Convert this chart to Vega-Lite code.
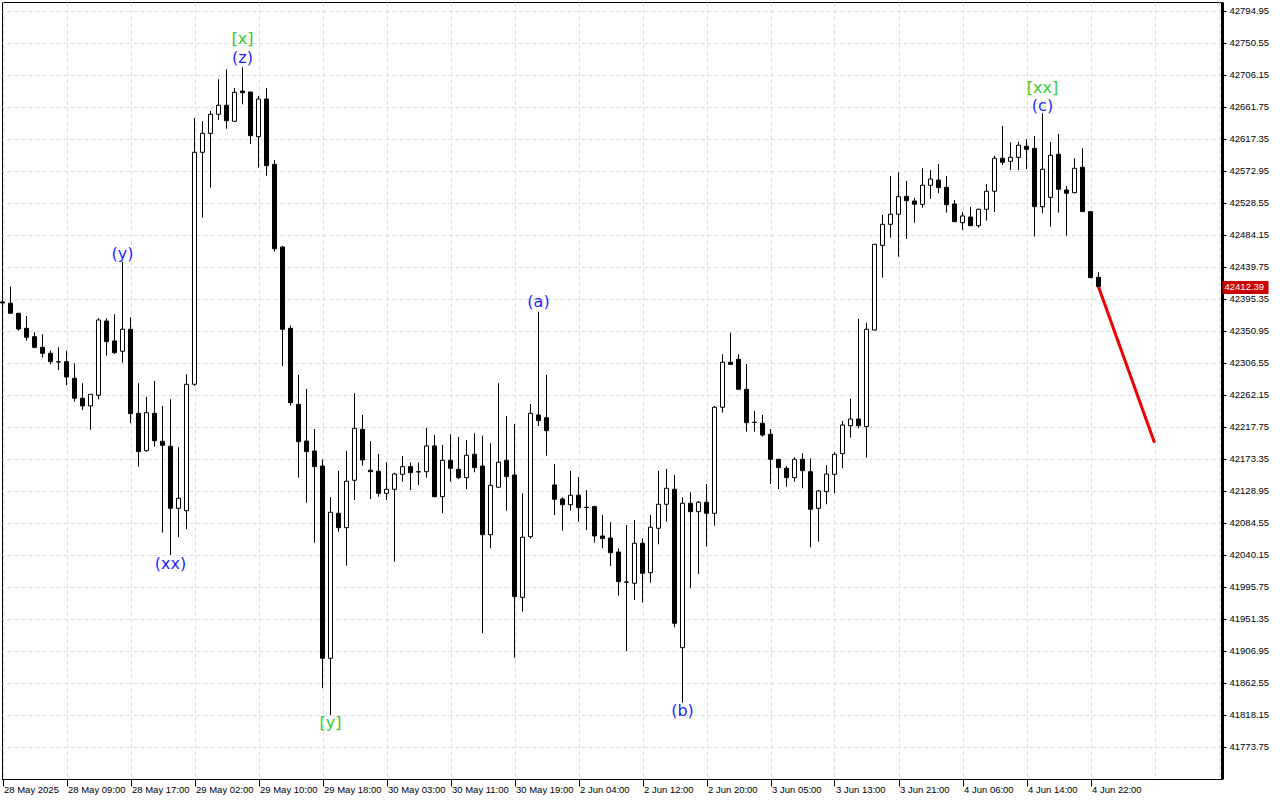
{
  "$schema": "https://vega.github.io/schema/vega-lite/v6.json",
  "width": 1220,
  "height": 777,
  "autosize": {"type": "none"},
  "padding": {"left": 2, "top": 2, "right": 58, "bottom": 21},
  "background": "white",
  "config": {
    "view": {"stroke": "black", "strokeWidth": 1},
    "axis": {"labelFont": "Liberation Sans", "labelFontSize": 9.5, "labelColor": "black", "title": null}
  },
  "resolve": {"axis": {"y": "independent"}},
  "datasets": {
    "candles": [
      {"i":0,"o":42391.2,"h":42395.3,"l":42387.0,"c":42389.8},
      {"i":1,"o":42389.4,"h":42412.4,"l":42375.5,"c":42375.5},
      {"i":2,"o":42375.5,"h":42375.5,"l":42351.4,"c":42353.7},
      {"i":3,"o":42354.7,"h":42371.7,"l":42337.5,"c":42342.2},
      {"i":4,"o":42343.0,"h":42349.1,"l":42326.9,"c":42328.3},
      {"i":5,"o":42328.3,"h":42346.4,"l":42313.9,"c":42320.0},
      {"i":6,"o":42320.0,"h":42323.6,"l":42304.7,"c":42308.3},
      {"i":7,"o":42308.3,"h":42328.3,"l":42296.8,"c":42308.0},
      {"i":8,"o":42308.3,"h":42323.6,"l":42275.6,"c":42287.1},
      {"i":9,"o":42285.3,"h":42306.1,"l":42252.8,"c":42257.6},
      {"i":10,"o":42257.6,"h":42278.4,"l":42241.3,"c":42246.9},
      {"i":11,"o":42246.9,"h":42263.1,"l":42213.6,"c":42263.1},
      {"i":12,"o":42261.7,"h":42368.6,"l":42256.2,"c":42366.2},
      {"i":13,"o":42364.8,"h":42368.6,"l":42316.7,"c":42336.1},
      {"i":14,"o":42337.1,"h":42374.1,"l":42319.0,"c":42320.8},
      {"i":15,"o":42322.8,"h":42447.1,"l":42307.0,"c":42353.3},
      {"i":16,"o":42353.3,"h":42369.9,"l":42222.9,"c":42236.2},
      {"i":17,"o":42236.7,"h":42278.4,"l":42162.7,"c":42183.5},
      {"i":18,"o":42184.8,"h":42259.8,"l":42183.5,"c":42237.6},
      {"i":19,"o":42236.7,"h":42281.6,"l":42190.4,"c":42198.7},
      {"i":20,"o":42197.9,"h":42246.9,"l":42071.1,"c":42192.3},
      {"i":21,"o":42191.0,"h":42256.2,"l":42040.1,"c":42104.9},
      {"i":22,"o":42104.9,"h":42189.6,"l":42064.7,"c":42118.8},
      {"i":23,"o":42101.6,"h":42290.9,"l":42075.8,"c":42277.0},
      {"i":24,"o":42277.0,"h":42646.5,"l":42274.6,"c":42598.9},
      {"i":25,"o":42598.9,"h":42642.3,"l":42508.1,"c":42625.2},
      {"i":26,"o":42625.2,"h":42656.2,"l":42549.8,"c":42651.6},
      {"i":27,"o":42651.6,"h":42700.2,"l":42643.7,"c":42664.1},
      {"i":28,"o":42664.1,"h":42714.0,"l":42631.6,"c":42642.7},
      {"i":29,"o":42641.9,"h":42688.1,"l":42641.9,"c":42682.1},
      {"i":30,"o":42683.9,"h":42716.8,"l":42665.5,"c":42681.6},
      {"i":31,"o":42682.5,"h":42682.5,"l":42610.4,"c":42621.9},
      {"i":32,"o":42620.5,"h":42677.0,"l":42577.5,"c":42672.8},
      {"i":33,"o":42672.8,"h":42688.1,"l":42566.4,"c":42580.3},
      {"i":34,"o":42582.2,"h":42588.2,"l":42461.0,"c":42465.1},
      {"i":35,"o":42467.5,"h":42468.9,"l":42302.4,"c":42353.3},
      {"i":36,"o":42354.7,"h":42358.8,"l":42247.3,"c":42251.5},
      {"i":37,"o":42249.2,"h":42289.9,"l":42147.4,"c":42197.3},
      {"i":38,"o":42198.3,"h":42270.5,"l":42112.7,"c":42183.5},
      {"i":39,"o":42184.4,"h":42215.0,"l":42057.2,"c":42162.7},
      {"i":40,"o":42163.6,"h":42172.9,"l":41855.2,"c":41896.8},
      {"i":41,"o":41896.8,"h":42120.6,"l":41818.1,"c":42099.4},
      {"i":42,"o":42098.0,"h":42156.7,"l":42072.5,"c":42078.0},
      {"i":43,"o":42078.0,"h":42184.4,"l":42025.3,"c":42142.4},
      {"i":44,"o":42143.8,"h":42264.5,"l":42116.4,"c":42215.9},
      {"i":45,"o":42214.5,"h":42234.4,"l":42164.0,"c":42171.9},
      {"i":46,"o":42157.7,"h":42198.3,"l":42117.8,"c":42155.7},
      {"i":47,"o":42156.3,"h":42180.3,"l":42121.0,"c":42125.7},
      {"i":48,"o":42125.7,"h":42168.8,"l":42116.4,"c":42131.3},
      {"i":49,"o":42131.3,"h":42154.3,"l":42030.8,"c":42152.5},
      {"i":50,"o":42152.1,"h":42177.5,"l":42141.8,"c":42162.7},
      {"i":51,"o":42162.7,"h":42168.2,"l":42130.3,"c":42154.3},
      {"i":52,"o":42155.7,"h":42168.2,"l":42137.3,"c":42155.3},
      {"i":53,"o":42155.7,"h":42216.8,"l":42147.4,"c":42191.4},
      {"i":54,"o":42191.4,"h":42206.6,"l":42120.2,"c":42121.0},
      {"i":55,"o":42121.0,"h":42192.8,"l":42098.0,"c":42171.5},
      {"i":56,"o":42171.5,"h":42207.6,"l":42141.8,"c":42160.4},
      {"i":57,"o":42159.0,"h":42203.9,"l":42145.6,"c":42147.4},
      {"i":58,"o":42147.4,"h":42199.7,"l":42131.7,"c":42178.5},
      {"i":59,"o":42179.9,"h":42209.0,"l":42154.9,"c":42161.3},
      {"i":60,"o":42163.6,"h":42205.7,"l":41931.5,"c":42068.3},
      {"i":61,"o":42068.3,"h":42195.1,"l":42049.4,"c":42136.8},
      {"i":62,"o":42134.1,"h":42278.4,"l":42134.1,"c":42168.8},
      {"i":63,"o":42171.5,"h":42233.0,"l":42101.6,"c":42148.8},
      {"i":64,"o":42151.1,"h":42221.9,"l":41897.6,"c":41982.3},
      {"i":65,"o":41981.4,"h":42125.7,"l":41961.5,"c":42064.7},
      {"i":66,"o":42065.5,"h":42249.6,"l":42062.8,"c":42236.7},
      {"i":67,"o":42234.4,"h":42377.7,"l":42219.1,"c":42226.5},
      {"i":68,"o":42230.6,"h":42289.9,"l":42177.9,"c":42212.6},
      {"i":69,"o":42137.3,"h":42166.4,"l":42095.6,"c":42117.4},
      {"i":70,"o":42117.8,"h":42120.2,"l":42073.9,"c":42109.9},
      {"i":71,"o":42109.9,"h":42156.7,"l":42101.6,"c":42123.0},
      {"i":72,"o":42123.0,"h":42148.4,"l":42086.3,"c":42105.8},
      {"i":73,"o":42106.3,"h":42130.3,"l":42074.8,"c":42106.0},
      {"i":74,"o":42107.2,"h":42108.5,"l":42057.2,"c":42066.5},
      {"i":75,"o":42066.5,"h":42095.6,"l":42049.4,"c":42062.8},
      {"i":76,"o":42063.7,"h":42085.5,"l":42024.9,"c":42043.3},
      {"i":77,"o":42044.3,"h":42049.4,"l":41983.7,"c":42003.1},
      {"i":78,"o":42002.7,"h":42081.8,"l":41906.9,"c":42002.3},
      {"i":79,"o":42000.9,"h":42088.7,"l":41977.7,"c":42056.4},
      {"i":80,"o":42056.4,"h":42063.3,"l":41974.0,"c":42014.7},
      {"i":81,"o":42015.6,"h":42095.6,"l":42001.7,"c":42078.6},
      {"i":82,"o":42077.2,"h":42156.7,"l":42055.0,"c":42110.5},
      {"i":83,"o":42110.5,"h":42159.5,"l":42086.3,"c":42132.7},
      {"i":84,"o":42131.3,"h":42151.1,"l":41939.8,"c":41945.4},
      {"i":85,"o":41911.5,"h":42120.2,"l":41835.2,"c":42111.9},
      {"i":86,"o":42111.9,"h":42127.1,"l":41993.9,"c":42100.2},
      {"i":87,"o":42100.2,"h":42115.1,"l":42013.8,"c":42113.3},
      {"i":88,"o":42113.3,"h":42138.6,"l":42051.7,"c":42098.0},
      {"i":89,"o":42098.0,"h":42246.9,"l":42080.8,"c":42245.1},
      {"i":90,"o":42245.1,"h":42318.6,"l":42237.6,"c":42307.5},
      {"i":91,"o":42307.5,"h":42348.6,"l":42304.7,"c":42304.7},
      {"i":92,"o":42311.7,"h":42318.6,"l":42270.0,"c":42270.0},
      {"i":93,"o":42270.0,"h":42305.1,"l":42211.2,"c":42223.7},
      {"i":94,"o":42224.3,"h":42239.9,"l":42211.2,"c":42224.0},
      {"i":95,"o":42222.9,"h":42234.4,"l":42204.3,"c":42206.6},
      {"i":96,"o":42207.6,"h":42215.0,"l":42138.6,"c":42172.9},
      {"i":97,"o":42172.9,"h":42172.9,"l":42131.7,"c":42161.3},
      {"i":98,"o":42160.4,"h":42163.6,"l":42134.9,"c":42147.4},
      {"i":99,"o":42147.4,"h":42175.7,"l":42141.8,"c":42172.9},
      {"i":100,"o":42172.9,"h":42181.3,"l":42132.7,"c":42157.1},
      {"i":101,"o":42155.7,"h":42174.3,"l":42050.8,"c":42103.5},
      {"i":102,"o":42104.9,"h":42130.3,"l":42058.6,"c":42128.9},
      {"i":103,"o":42128.0,"h":42165.0,"l":42110.5,"c":42152.5},
      {"i":104,"o":42152.1,"h":42182.6,"l":42125.7,"c":42179.9},
      {"i":105,"o":42180.7,"h":42226.1,"l":42160.4,"c":42220.5},
      {"i":106,"o":42219.5,"h":42256.6,"l":42202.9,"c":42228.8},
      {"i":107,"o":42228.8,"h":42367.6,"l":42215.9,"c":42219.5},
      {"i":108,"o":42218.2,"h":42362.5,"l":42175.1,"c":42353.3},
      {"i":109,"o":42352.3,"h":42471.2,"l":42351.4,"c":42471.2},
      {"i":110,"o":42469.8,"h":42511.9,"l":42424.9,"c":42499.0},
      {"i":111,"o":42499.0,"h":42566.0,"l":42480.4,"c":42512.9},
      {"i":112,"o":42512.9,"h":42571.1,"l":42454.0,"c":42537.3},
      {"i":113,"o":42537.8,"h":42559.1,"l":42478.6,"c":42531.7},
      {"i":114,"o":42531.3,"h":42535.9,"l":42501.2,"c":42526.7},
      {"i":115,"o":42526.7,"h":42576.7,"l":42522.0,"c":42553.1},
      {"i":116,"o":42553.1,"h":42574.3,"l":42534.1,"c":42561.8},
      {"i":117,"o":42560.4,"h":42582.6,"l":42542.0,"c":42549.8},
      {"i":118,"o":42550.3,"h":42566.0,"l":42515.1,"c":42526.2},
      {"i":119,"o":42527.1,"h":42532.7,"l":42502.6,"c":42502.6},
      {"i":120,"o":42501.2,"h":42516.0,"l":42491.1,"c":42510.5},
      {"i":121,"o":42509.1,"h":42523.0,"l":42497.0,"c":42497.0},
      {"i":122,"o":42497.0,"h":42520.6,"l":42494.3,"c":42519.8},
      {"i":123,"o":42519.8,"h":42554.9,"l":42504.0,"c":42544.8},
      {"i":124,"o":42544.8,"h":42594.2,"l":42516.0,"c":42590.6},
      {"i":125,"o":42590.6,"h":42635.4,"l":42581.3,"c":42585.0},
      {"i":126,"o":42586.4,"h":42612.8,"l":42574.3,"c":42591.9},
      {"i":127,"o":42591.9,"h":42613.6,"l":42574.3,"c":42608.6},
      {"i":128,"o":42607.2,"h":42616.9,"l":42575.7,"c":42603.0},
      {"i":129,"o":42604.4,"h":42621.5,"l":42481.8,"c":42523.4},
      {"i":130,"o":42523.4,"h":42653.0,"l":42514.2,"c":42575.3},
      {"i":131,"o":42536.4,"h":42613.2,"l":42495.7,"c":42594.7},
      {"i":132,"o":42596.1,"h":42624.3,"l":42515.1,"c":42547.5},
      {"i":133,"o":42546.6,"h":42552.1,"l":42483.2,"c":42542.0},
      {"i":134,"o":42542.8,"h":42590.6,"l":42542.0,"c":42576.7},
      {"i":135,"o":42578.1,"h":42604.4,"l":42516.5,"c":42516.5},
      {"i":136,"o":42516.5,"h":42516.5,"l":42424.9,"c":42424.9},
      {"i":137,"o":42425.4,"h":42432.4,"l":42412.39,"c":42412.39}
    ],
    "labels": [
      {"i":15,"v":42457.8,"t":"(y)","g":"wave"},
      {"i":21,"v":42027.7,"t":"(xx)","g":"wave"},
      {"i":30,"v":42756.1,"t":"[x]","g":"major"},
      {"i":30,"v":42729.7,"t":"(z)","g":"wave"},
      {"i":41,"v":41807.0,"t":"[y]","g":"major"},
      {"i":67,"v":42391.2,"t":"(a)","g":"wave"},
      {"i":85,"v":41823.7,"t":"(b)","g":"wave"},
      {"i":130,"v":42688.1,"t":"[xx]","g":"major"},
      {"i":130,"v":42663.1,"t":"(c)","g":"wave"}
    ],
    "forecast": [
      {"i":137,"v":42412.39},
      {"i":144,"v":42196.0}
    ]
  },
  "layer": [
    {
      "data": {"name": "candles"},
      "mark": {"type": "rule", "color": "black", "strokeWidth": 1},
      "encoding": {
        "x": {
          "field": "i", "type": "quantitative",
          "scale": {"domain": [-0.0625, 152.4375], "nice": false, "zero": false, "padding": 0},
          "axis": {
            "values": [0,4,8,12,16,20,24,28,32,36,40,44,48,52,56,60,64,68,72,76,80,84,88,92,96,100,104,108,112,116,120,124,128,132,136,140,144,148,152],
            "labelExpr": "(datum.value % 8 == 0 && datum.value <= 136) ? ['28 May 2025','28 May 09:00','28 May 17:00','29 May 02:00','29 May 10:00','29 May 18:00','30 May 03:00','30 May 11:00','30 May 19:00','2 Jun 04:00','2 Jun 12:00','2 Jun 20:00','3 Jun 05:00','3 Jun 13:00','3 Jun 21:00','4 Jun 06:00','4 Jun 14:00','4 Jun 22:00'][datum.value / 8] : ''",
            "grid": true, "gridColor": "#dcdcdc", "gridDash": [4, 3], "gridWidth": 1,
            "tickSize": 7, "tickColor": "black",
            "tickOpacity": {"condition": {"test": "datum.value % 8 == 0 && datum.value <= 136", "value": 1}, "value": 0},
            "labelAlign": "left", "labelBaseline": "top", "labelPadding": -2, "labelOffset": 1,
            "labelOverlap": false, "labelFlush": false, "labelBound": false,
            "domain": true, "domainColor": "black", "title": null
          }
        },
        "y": {
          "field": "l", "type": "quantitative",
          "scale": {"domain": [41729.3, 42807.4], "nice": false, "zero": false},
          "axis": {
            "orient": "right",
            "values": [41773.75,41818.15,41862.55,41906.95,41951.35,41995.75,42040.15,42084.55,42128.95,42173.35,42217.75,42262.15,42306.55,42350.95,42395.35,42439.75,42484.15,42528.55,42572.95,42617.35,42661.75,42706.15,42750.55,42794.95],
            "format": ".2f",
            "grid": true, "gridColor": "#dcdcdc", "gridDash": [4, 3], "gridWidth": 1,
            "tickColor": "black", "tickSize": 4, "tickWidth": 1,
            "labelPadding": 3, "labelAlign": "left", "labelBaseline": "middle",
            "labelOverlap": false, "labelFlush": false, "labelBound": false,
            "domain": true, "domainColor": "black", "domainWidth": 3, "title": null
          }
        },
        "y2": {"field": "h"}
      }
    },
    {
      "data": {"name": "candles"},
      "mark": {"type": "bar", "orient": "vertical", "size": 4, "stroke": "black", "strokeWidth": 1},
      "encoding": {
        "x": {"field": "i", "type": "quantitative"},
        "y": {"field": "o", "type": "quantitative", "axis": null},
        "y2": {"field": "c"},
        "fill": {"condition": {"test": "datum.c > datum.o", "value": "white"}, "value": "black"}
      }
    },
    {
      "mark": {"type": "rule", "color": "#e00000", "strokeWidth": 1},
      "encoding": {
        "y": {
          "datum": 42412.39, "type": "quantitative",
          "axis": {
            "orient": "right", "values": [42412.39], "format": ".2f",
            "grid": false, "domain": false,
            "tickColor": "#cc0000", "tickSize": 46, "tickWidth": 13,
            "labelColor": "white", "labelPadding": -44, "labelAlign": "left", "labelBaseline": "middle",
            "labelOverlap": false, "labelFlush": false, "labelBound": false, "title": null
          }
        }
      }
    },
    {
      "data": {"name": "forecast"},
      "mark": {"type": "line", "color": "#ee0000", "strokeWidth": 3},
      "encoding": {
        "x": {"field": "i", "type": "quantitative"},
        "y": {"field": "v", "type": "quantitative", "axis": null}
      }
    },
    {
      "data": {"name": "labels"},
      "mark": {"type": "text", "font": "DejaVu Sans", "fontSize": 16, "baseline": "middle", "align": "center"},
      "encoding": {
        "x": {"field": "i", "type": "quantitative"},
        "y": {"field": "v", "type": "quantitative", "axis": null},
        "text": {"field": "t"},
        "color": {"field": "g", "type": "nominal", "scale": {"domain": ["wave", "major"], "range": ["#1f1fff", "#33cc33"]}, "legend": null}
      }
    }
  ]
}
